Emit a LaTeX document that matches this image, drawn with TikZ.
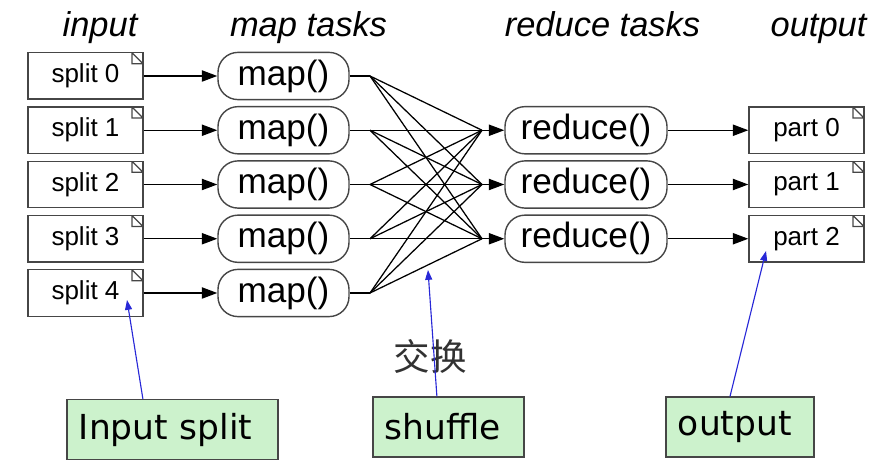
\documentclass[tikz,border=0pt]{standalone}
\usepackage{fontspec}
\setmainfont{Liberation Sans}
\newfontfamily\calloutfont{DejaVu Sans}
\newfontfamily\cjk{Noto Sans CJK SC}
\usetikzlibrary{arrows.meta}
\definecolor{calloutgreen}{RGB}{204,242,204}
\definecolor{callblue}{RGB}{40,40,215}
\definecolor{boxline}{RGB}{70,70,70}
\definecolor{swapgray}{RGB}{50,50,50}

\begin{document}
\begin{tikzpicture}[x=0.025cm,y=-0.025cm,
    filebox/.style={draw=boxline, line width=1pt, minimum width=2.875cm, minimum height=1.16cm, inner sep=0pt,
        font=\fontsize{18.5}{20}\selectfont,
        path picture={\draw[boxline, line width=0.8pt] ([xshift=-0.275cm]path picture bounding box.north east) -- ++(0,-0.275cm)
            -- ([yshift=-0.275cm]path picture bounding box.north east) -- cycle;}},
    taskbox/.style={draw=boxline, line width=1pt, rounded corners=0.5cm, minimum height=1.18cm, inner sep=0pt,
        font=\fontsize{25}{27}\selectfont},
    heading/.style={anchor=base, font=\itshape\fontsize{24.5}{26}\selectfont},
    callout/.style={draw=boxline, fill=calloutgreen, line width=0.8pt, minimum height=1.5cm, inner xsep=0.3cm,
        align=left, font=\calloutfont\fontsize{24.5}{26}\selectfont},
    flow/.style={line width=1pt, -{Triangle[length=11pt,width=8pt]}},
    pointer/.style={callblue, line width=0.8pt, -{Triangle[length=7pt,width=5pt]}}]
    \useasboundingbox (0,0) rectangle (893,464);

    %headings
    \node[heading] (hinput) at (100,37) {input};
    \node[heading] (hmap) at (308.5,37) {map tasks};
    \node[heading] (hreduce) at (602.5,37) {reduce tasks};
    \node[heading] (houtput) at (818.5,37) {output};

    %splits and map tasks
    \foreach \k in {0,...,4} {
        \pgfmathsetmacro\yy{76+54.25*\k}
        \node[filebox] (split\k) at (85.5,\yy) {split \k};
        \node[taskbox, minimum width=3.275cm] (map\k) at (283.5,\yy) {map()};
        \draw[flow] (split\k) -- (map\k);
        \coordinate (mo\k) at (370,\yy);
        \draw[line width=1pt] (map\k) -- (mo\k);
    }

    %reduce tasks, parts and the shuffle
    \foreach \j in {0,1,2} {
        \pgfmathsetmacro\yy{76+54.25*(\j+1)}
        \node[taskbox, minimum width=4.05cm] (reduce\j) at (586,\yy) {reduce()};
        \node[filebox] (part\j) at (806.5,\yy) {part \j};
        \coordinate (ri\j) at (482,\yy);
        \foreach \k in {0,...,4} \draw[line width=0.9pt] (mo\k) -- (ri\j);
        \draw[flow] (ri\j) -- (reduce\j);
        \draw[flow] (reduce\j) -- (part\j);
    }

    \node[font=\cjk\fontsize{26}{28}\selectfont, text=swapgray] (swap) at (430,356) {交换};

    %callouts
    \node[callout, text width=4.675cm] (gin) at (172.5,429.5) {Input split};
    \node[callout, text width=3.175cm] (gshuffle) at (448.5,427) {shuffle};
    \node[callout, text width=3.1cm] (gout) at (740,427) {output};

    \coordinate (tipin) at (127,300);
    \coordinate (tipshuffle) at (428,270);
    \coordinate (tipout) at (766,251);
    \draw[pointer] ([xshift=-0.74cm]gin.north) -- (tipin);
    \draw[pointer] ([xshift=-0.29cm]gshuffle.north) -- (tipshuffle);
    \draw[pointer] ([xshift=-0.25cm]gout.north) -- (tipout);
\end{tikzpicture}
\end{document}
